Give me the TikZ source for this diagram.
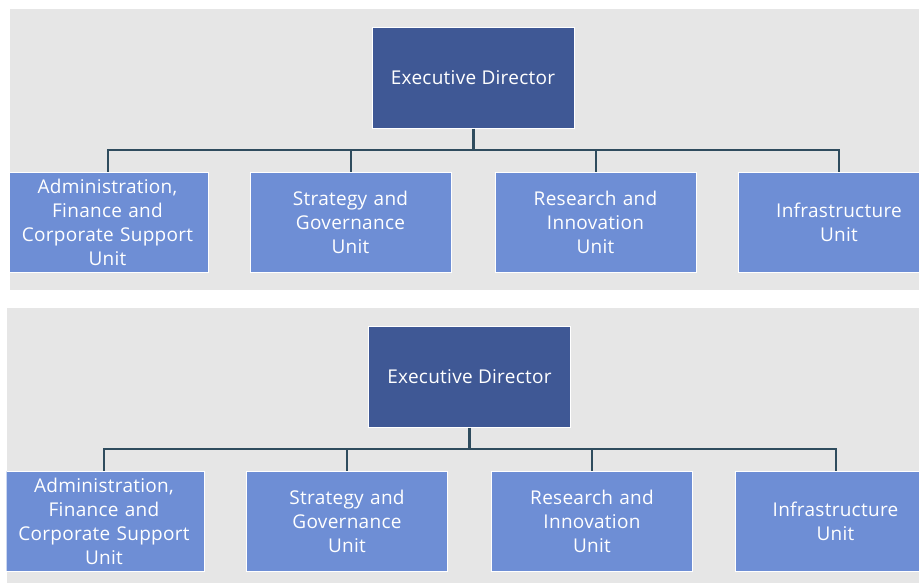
\documentclass[tikz,border=0pt]{standalone}
\usepackage{fontspec}
\setmainfont{Open Sans}[LetterSpace=1.5]
\definecolor{panelgray}{HTML}{E6E6E6}
\definecolor{execblue}{HTML}{3F5895}
\definecolor{unitblue}{HTML}{6E8ED5}
\definecolor{connclr}{HTML}{2F4C5E}
\tikzset{
  panel/.style={fill=panelgray, draw=none},
  execbox/.style={draw=white, line width=1pt, fill=execblue, text=white,
    minimum width=202pt, minimum height=101pt, inner sep=0pt,
    font=\fontsize{19pt}{24pt}\selectfont, align=center},
  unitbox/.style={draw=white, line width=1pt, fill=unitblue, text=white,
    minimum width=201pt, minimum height=100pt, inner sep=0pt, text width=198pt,
    font=\fontsize{19pt}{24pt}\selectfont, align=center},
  conn/.style={draw=connclr, line width=2pt},
  mainconn/.style={draw=connclr, line width=3pt}
}
\newcommand\orgchartpanel[1]{%
  \fill[panel] (10,9) rectangle (930,290);
  \begin{scope}
    \clip (10,9) rectangle (930,290);
    \coordinate (#1bar) at (0,150);
    \node[execbox] (#1ex) at (473,77.5) {Executive Director};
    \node[unitbox] (#1u1) at (107.5,222) {Administration,\\Finance and\\Corporate Support\\Unit};
    \node[unitbox] (#1u2) at (350.5,222) {Strategy and\\Governance\\Unit};
    \node[unitbox] (#1u3) at (595.5,222) {Research and\\Innovation\\Unit};
    \node[unitbox] (#1u4) at (839,222) {Infrastructure\\Unit};
    \draw[mainconn] (#1ex.south) -- (#1ex.south |- #1bar);
    \draw[conn] (#1u1.north) |- (#1u4.north |- #1bar) -- (#1u4.north);
    \draw[conn] (#1u2.north) -- (#1u2.north |- #1bar);
    \draw[conn] (#1u3.north) -- (#1u3.north |- #1bar);
  \end{scope}
}
\begin{document}
\begin{tikzpicture}[x=1pt,y=-1pt]
  \useasboundingbox (0,0) rectangle (919,582);
  \fill[white] (0,0) rectangle (919,582);
  \clip (0,0) rectangle (919,582);
  \orgchartpanel{a}
  \begin{scope}[shift={(-3.5,299)}]
    \orgchartpanel{b}
  \end{scope}
\end{tikzpicture}
\end{document}
